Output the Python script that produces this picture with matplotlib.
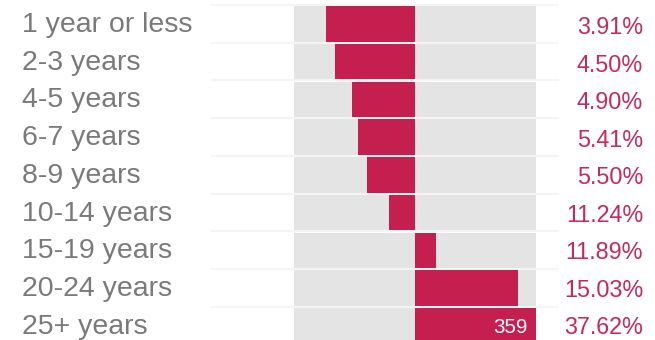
import matplotlib
matplotlib.use("Agg")
import matplotlib.pyplot as plt
from matplotlib.transforms import blended_transform_factory

categories = ["1 year or less", "2-3 years", "4-5 years", "6-7 years", "8-9 years",
              "10-14 years", "15-19 years", "20-24 years", "25+ years"]
bar_values = [-264, -237, -187, -169, -142, -77, 62, 306, 359]
percent_labels = ["3.91%", "4.50%", "4.90%", "5.41%", "5.50%",
                  "11.24%", "11.89%", "15.03%", "37.62%"]
domain_max = 359
bar_label_value = 359

W, H = 655, 340
fig = plt.figure(figsize=(W / 100, H / 100), dpi=100)
fig.patch.set_facecolor("white")

pitch = 37.75
first_center = 23.85
ax = fig.add_axes([294 / W, 0, 242 / W, 1])
ax.set_xlim(-domain_max, domain_max)
ax.set_ylim((H - first_center) / pitch, -first_center / pitch)
ax.axis("off")

n = len(categories)
ys = list(range(n))
bar_h = 35.7 / pitch

bt = blended_transform_factory(fig.transFigure, ax.transData)

# faint separator lines
for i in range(n):
    ax.plot([212 / W, 558 / W], [i - 0.5, i - 0.5], transform=bt, color="#f4f4f4",
            lw=1.5, clip_on=False, zorder=0)

ax.barh(ys, [2 * domain_max] * n, left=-domain_max, height=bar_h,
        color="#e4e4e4", zorder=1)
ax.barh(ys, bar_values, left=0, height=bar_h, color="#c51f4f", zorder=2)

for i, (cat, pct) in enumerate(zip(categories, percent_labels)):
    ax.text(22 / W, i + 8.0 / pitch, cat, transform=bt, ha="left", va="baseline",
            fontsize=20.5, color="#7a7a7a", family=["Liberation Sans", "DejaVu Sans"])
    py = (34.3 + 37.46 * i - first_center) / pitch
    ax.text(643 / W, py, pct, transform=bt, ha="right", va="baseline",
            fontsize=16.8, color="#c8285a", family=["Liberation Sans", "DejaVu Sans"])

last = n - 1
ax.text(528 / W, last + 7.5 / pitch, str(bar_label_value), transform=bt,
        ha="right", va="baseline", fontsize=14.8, color="white",
        family=["Liberation Sans", "DejaVu Sans"], zorder=3)

fig.savefig("out.png", dpi=100)
